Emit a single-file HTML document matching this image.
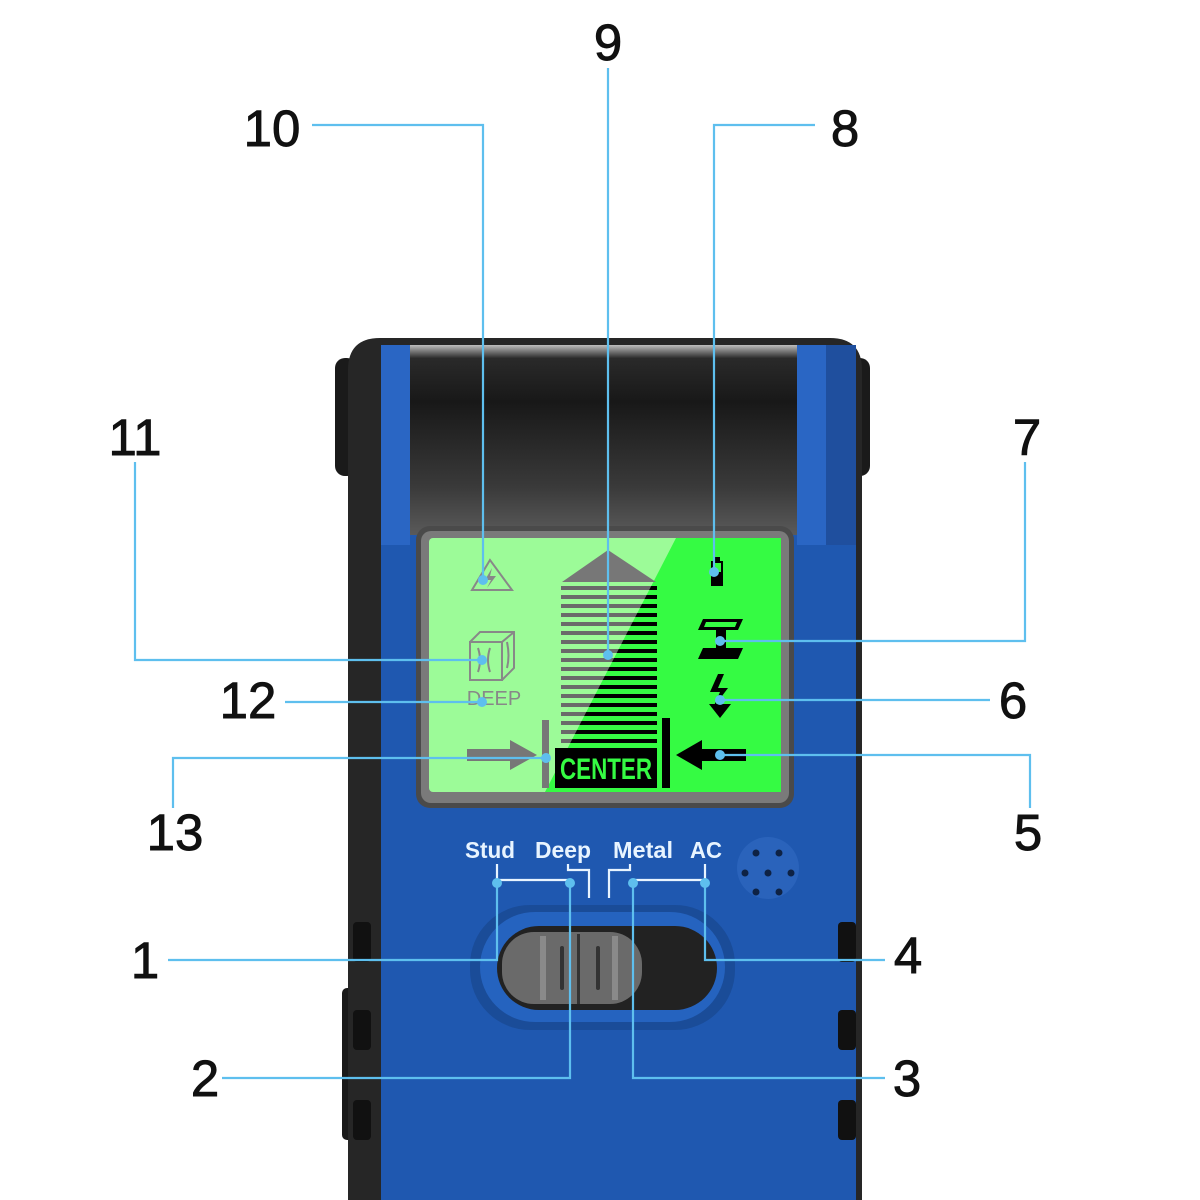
<!DOCTYPE html>
<html><head><meta charset="utf-8"><style>
html,body{margin:0;padding:0;background:#fff;}
svg{display:block;}
.n{font-family:"Liberation Sans",sans-serif;font-size:51px;fill:#111;stroke:#111;stroke-width:0.9;text-anchor:middle;}
.w{font-family:"Liberation Sans",sans-serif;font-size:23px;font-weight:bold;fill:#e8f4ff;text-anchor:middle;}
.c{stroke:#5ebfee;stroke-width:2.2;fill:none;}
.d{fill:#5ebfee;}
</style></head><body>
<svg width="1200" height="1200" viewBox="0 0 1200 1200" xmlns="http://www.w3.org/2000/svg">
<defs>
<linearGradient id="face" x1="0" y1="0" x2="0" y2="1">
<stop offset="0" stop-color="#bdbdbd"/><stop offset="0.07" stop-color="#2a2a2a"/><stop offset="0.3" stop-color="#181818"/><stop offset="0.75" stop-color="#3a3a3a"/><stop offset="1" stop-color="#5a5a5a"/>
</linearGradient>
<clipPath id="rgt"><polygon points="676,538 782,538 782,792 545,792"/></clipPath>
</defs>
<rect x="335" y="358" width="22" height="118" rx="10" fill="#1a1a1a"/>
<rect x="848" y="358" width="22" height="118" rx="10" fill="#1a1a1a"/>
<rect x="342" y="988" width="14" height="152" rx="5" fill="#1a1a1a"/>
<path d="M348 1200 L348 370 Q348 338 380 338 L830 338 Q862 338 862 370 L862 1200 Z" fill="#262626"/>
<rect x="381" y="345" width="475" height="855" fill="#1f58b0"/>
<rect x="381" y="345" width="29" height="200" fill="#2a66c4"/>
<rect x="797" y="345" width="29" height="200" fill="#2a66c4"/>
<rect x="410" y="345" width="387" height="190" fill="url(#face)"/>
<rect x="826" y="345" width="30" height="200" fill="#1f4f9e"/>
<rect x="416" y="526" width="378" height="282" rx="14" fill="#4a4a4a"/>
<rect x="421" y="531" width="368" height="272" rx="10" fill="#7a7a7a"/>
<rect x="429" y="538" width="352" height="254" rx="4" fill="#9cfb98"/>
<polygon points="676,538 781,538 781,792 545,792" fill="#35fb43"/>
<polygon points="608,550 562,582 656,582" fill="#777"/>
<g fill="#6a6a6a">
<rect x="561" y="586" width="96" height="4"/><rect x="561" y="595" width="96" height="4"/><rect x="561" y="604" width="96" height="4"/><rect x="561" y="613" width="96" height="4"/><rect x="561" y="622" width="96" height="4"/><rect x="561" y="631" width="96" height="4"/><rect x="561" y="640" width="96" height="4"/><rect x="561" y="649" width="96" height="4"/><rect x="561" y="658" width="96" height="4"/><rect x="561" y="667" width="96" height="4"/><rect x="561" y="676" width="96" height="4"/><rect x="561" y="685" width="96" height="4"/><rect x="561" y="694" width="96" height="4"/><rect x="561" y="703" width="96" height="4"/><rect x="561" y="712" width="96" height="4"/><rect x="561" y="721" width="96" height="4"/><rect x="561" y="730" width="96" height="4"/><rect x="561" y="739" width="96" height="4"/>
</g>
<g clip-path="url(#rgt)" fill="#000">
<rect x="561" y="586" width="96" height="4"/><rect x="561" y="595" width="96" height="4"/><rect x="561" y="604" width="96" height="4"/><rect x="561" y="613" width="96" height="4"/><rect x="561" y="622" width="96" height="4"/><rect x="561" y="631" width="96" height="4"/><rect x="561" y="640" width="96" height="4"/><rect x="561" y="649" width="96" height="4"/><rect x="561" y="658" width="96" height="4"/><rect x="561" y="667" width="96" height="4"/><rect x="561" y="676" width="96" height="4"/><rect x="561" y="685" width="96" height="4"/><rect x="561" y="694" width="96" height="4"/><rect x="561" y="703" width="96" height="4"/><rect x="561" y="712" width="96" height="4"/><rect x="561" y="721" width="96" height="4"/><rect x="561" y="730" width="96" height="4"/><rect x="561" y="739" width="96" height="4"/>
</g>
<rect x="542" y="720" width="7" height="68" fill="#777"/>
<rect x="555" y="748" width="102" height="40" fill="#000"/>
<text x="606" y="779" font-family="Liberation Sans,sans-serif" font-size="30" font-weight="bold" fill="#35fb43" text-anchor="middle" textLength="92" lengthAdjust="spacingAndGlyphs">CENTER</text>
<rect x="662" y="718" width="8" height="70" fill="#000"/>
<polygon points="467,749 510,749 510,740 537,755 510,770 510,761 467,761" fill="#777"/>
<polygon points="746,749 702,749 702,740 676,755 702,770 702,761 746,761" fill="#000"/>
<polygon points="490,560 472,590 512,590" fill="none" stroke="#888" stroke-width="2"/>
<path d="M492 568 L485 580 L491 580 L487 588 L496 576 L490 576 Z" fill="#888"/>
<g stroke="#888" stroke-width="2" fill="none">
<rect x="470" y="642" width="32" height="38"/><path d="M470 642 L480 632 L514 632 L514 668 L502 680 M502 642 L514 632"/>
<path d="M478 648 Q482 660 478 672 M490 648 Q486 660 490 672 M507 642 Q510 656 507 668"/>
</g>
<text x="494" y="705" font-family="Liberation Sans,sans-serif" font-size="20" fill="#888" text-anchor="middle">DEEP</text>
<rect x="711" y="561" width="12" height="25" fill="#000"/><rect x="714" y="557" width="6" height="5" fill="#000"/><rect x="713" y="563" width="8" height="9" fill="#35fb43"/>
<polygon points="703,619 743,619 738,630 698,630" fill="#000"/><polygon points="706,622 737,622 735,627 704,627" fill="#35fb43"/>
<rect x="716" y="628" width="10" height="22" fill="#000"/>
<polygon points="703,648 743,648 738,659 698,659" fill="#000"/>
<path d="M718 674 L710 692 L720 692 L713 708 L728 688 L718 688 L724 674 Z" fill="#000"/>
<polygon points="709,704 731,704 720,718" fill="#000"/>
<text class="w" x="490" y="858" textLength="50" lengthAdjust="spacingAndGlyphs">Stud</text>
<text class="w" x="563" y="858" textLength="56" lengthAdjust="spacingAndGlyphs">Deep</text>
<text class="w" x="643" y="858" textLength="60" lengthAdjust="spacingAndGlyphs">Metal</text>
<text class="w" x="706" y="858" textLength="32" lengthAdjust="spacingAndGlyphs">AC</text>
<g stroke="#e8f4ff" stroke-width="2.2" fill="none">
<path d="M497 864 V880 H570"/><path d="M568 864 V870 H589 V898"/><path d="M609 898 V870 H630 V864"/><path d="M632 880 H705 V864"/>
</g>
<circle cx="768" cy="868" r="31" fill="#2a63bb"/>
<g fill="#0e2244"><circle cx="756" cy="853" r="3.5"/><circle cx="779" cy="853" r="3.5"/><circle cx="745" cy="873" r="3.5"/><circle cx="768" cy="873" r="3.5"/><circle cx="791" cy="873" r="3.5"/><circle cx="756" cy="892" r="3.5"/><circle cx="779" cy="892" r="3.5"/></g>
<rect x="470" y="905" width="265" height="125" rx="60" fill="#1a4c98"/>
<rect x="480" y="912" width="245" height="110" rx="55" fill="#2563bf"/>
<rect x="497" y="926" width="220" height="84" rx="42" fill="#222"/>
<rect x="502" y="932" width="140" height="72" rx="32" fill="#6a6a6a"/>
<rect x="540" y="936" width="6" height="64" fill="#8a8a8a"/><rect x="560" y="946" width="4" height="44" rx="2" fill="#333"/>
<rect x="577" y="934" width="3" height="70" fill="#333"/><rect x="596" y="946" width="4" height="44" rx="2" fill="#333"/><rect x="612" y="936" width="6" height="64" fill="#8a8a8a"/>
<g fill="#111"><rect x="353" y="922" width="18" height="40" rx="4"/><rect x="353" y="1010" width="18" height="40" rx="4"/><rect x="353" y="1100" width="18" height="40" rx="4"/><rect x="838" y="922" width="18" height="40" rx="4"/><rect x="838" y="1010" width="18" height="40" rx="4"/><rect x="838" y="1100" width="18" height="40" rx="4"/></g>
<path class="c" d="M312 125 H483 V580"/>
<path class="c" d="M608 68 V655"/>
<path class="c" d="M815 125 H714 V572"/>
<path class="c" d="M135 462 V660 H482"/>
<path class="c" d="M1025 462 V641 H720"/>
<path class="c" d="M285 702 H482"/>
<path class="c" d="M990 700 H720"/>
<path class="c" d="M173 808 V758 H546"/>
<path class="c" d="M1030 808 V755 H720"/>
<path class="c" d="M168 960 H497 V883"/>
<path class="c" d="M885 960 H705 V883"/>
<path class="c" d="M222 1078 H570 V883"/>
<path class="c" d="M885 1078 H633 V883"/>
<g class="d">
<circle cx="483" cy="580" r="5"/><circle cx="608" cy="655" r="5"/><circle cx="714" cy="572" r="5"/><circle cx="482" cy="660" r="5"/><circle cx="720" cy="641" r="5"/><circle cx="482" cy="702" r="5"/><circle cx="720" cy="700" r="5"/><circle cx="546" cy="758" r="5"/><circle cx="720" cy="755" r="5"/><circle cx="497" cy="883" r="5"/><circle cx="570" cy="883" r="5"/><circle cx="633" cy="883" r="5"/><circle cx="705" cy="883" r="5"/>
</g>
<text class="n" x="608" y="60">9</text>
<text class="n" x="272" y="146">10</text>
<text class="n" x="845" y="146">8</text>
<text class="n" x="135" y="455">11</text>
<text class="n" x="1027" y="455">7</text>
<text class="n" x="248" y="718">12</text>
<text class="n" x="1013" y="718">6</text>
<text class="n" x="175" y="850">13</text>
<text class="n" x="1028" y="850">5</text>
<text class="n" x="145" y="978">1</text>
<text class="n" x="908" y="973">4</text>
<text class="n" x="205" y="1096">2</text>
<text class="n" x="907" y="1096">3</text>
</svg>
</body></html>
